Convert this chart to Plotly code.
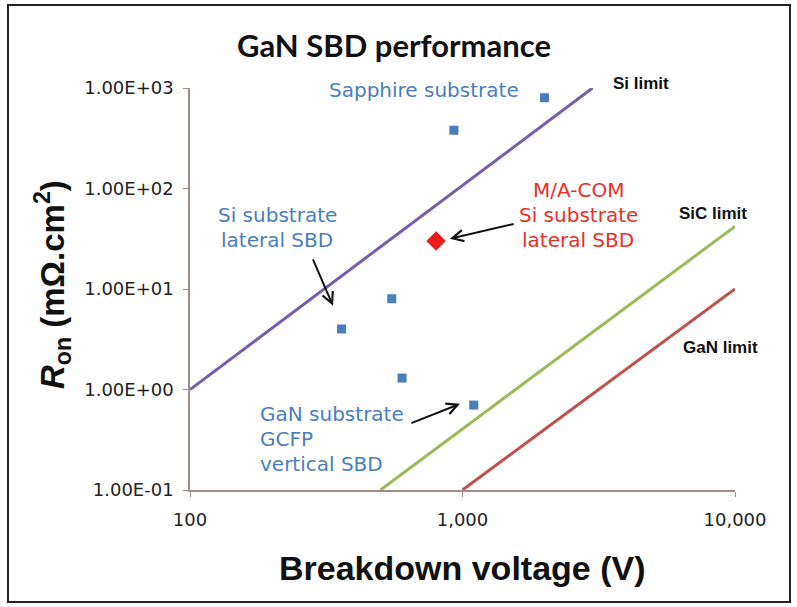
import numpy as np
import plotly.graph_objects as go

# ---- data ----
blue_v = [2000, 930, 550, 360, 600, 1100]
blue_r = [800, 380, 8, 4, 1.3, 0.7]
macom_v = [800]
macom_r = [30]

si_limit_v = [100, 3000]
si_limit_r = [1.0, 1000]
sic_limit_v = [500, 10000]
sic_limit_r = [0.1, 42]
gan_limit_v = [1000, 10000]
gan_limit_r = [0.1, 10]

y_tickvals = [0.1, 1, 10, 100, 1000]
y_ticktext = ["1.00E-01", "1.00E+00", "1.00E+01", "1.00E+02", "1.00E+03"]
x_tickvals = [100, 1000, 10000]
x_ticktext = ["100", "1,000", "10,000"]

# arrows: (tail_v, tail_r, head_v, head_r)
arrow_si = (281, 20.4, 335, 6.8)
arrow_macom = (1560, 44.7, 899, 31.6)
arrow_gan = (641, 0.457, 979, 0.72)

# ---- layout geometry ----
W, H = 797, 607
L, R, T, B = 190, 62, 88, 117
PW, PH = W - L - R, H - T - B


def px(x, y):
    return (x - L) / PW, (H - B - y) / PH


fig = go.Figure()

fig.add_trace(go.Scatter(x=si_limit_v, y=si_limit_r, mode="lines",
                         line=dict(color="#7a5ea8", width=3), showlegend=False))
fig.add_trace(go.Scatter(x=sic_limit_v, y=sic_limit_r, mode="lines",
                         line=dict(color="#9bbb59", width=3), showlegend=False))
fig.add_trace(go.Scatter(x=gan_limit_v, y=gan_limit_r, mode="lines",
                         line=dict(color="#c0504d", width=3), showlegend=False))
fig.add_trace(go.Scatter(x=blue_v, y=blue_r, mode="markers",
                         marker=dict(symbol="square", size=9, color="#4a7ebb"),
                         showlegend=False))
fig.add_trace(go.Scatter(x=macom_v, y=macom_r, mode="markers",
                         marker=dict(symbol="diamond", size=15, color="#ee1c1c"),
                         showlegend=False))

ann = []
LBL = "DejaVu Sans, Verdana"
tick_font = dict(family=LBL, size=18, color="#222222")


def text(x, y, s, size=19, color="#4a7ebb", bold=False, family=LBL,
         xanchor="center", angle=0):
    xp, yp = px(x, y)
    if bold:
        s = "<b>" + s + "</b>"
    ann.append(dict(x=xp, y=yp, xref="paper", yref="paper", text=s, showarrow=False,
                    xanchor=xanchor, yanchor="middle", textangle=angle,
                    font=dict(family=family, size=size, color=color)))


def lines(x, y0, spacing, items, **kw):
    for i, s in enumerate(items):
        text(x, y0 + i * spacing, s, **kw)


text(394, 45, "GaN SBD performance", size=31, color="#111111", bold=True, family="Lato, Open Sans")
text(424, 90, "Sapphire substrate", size=20)
text(641, 83, "Si limit", size=17, color="#111111", bold=True, family="Liberation Sans, Arial")
lines(277, 215, 25, ["Si substrate", "lateral SBD"], size=20)
lines(578, 190, 25, ["M/A-COM", "Si substrate", "lateral SBD"], size=20, color="#e8302a")
text(713, 213, "SiC limit", size=17, color="#111111", bold=True, family="Liberation Sans, Arial")
text(720, 347, "GaN limit", size=17, color="#111111", bold=True, family="Liberation Sans, Arial")
lines(258, 414, 25, ["GaN substrate", "GCFP", "vertical SBD"], size=20, xanchor="left")
text(462, 568, "Breakdown voltage (V)", size=34, color="#111111", bold=True,
     family="Liberation Sans, Arial")
text(52, 285, "<i>R</i><sub>on</sub> (mΩ.cm<sup>2</sup>)", size=33, color="#111111", bold=True,
     family="Liberation Sans, Arial", angle=-90)

for tv, tr, hv, hr in (arrow_si, arrow_macom, arrow_gan):
    ann.append(dict(x=np.log10(hv), y=np.log10(hr), ax=np.log10(tv), ay=np.log10(tr),
                    xref="x", yref="y", axref="x", ayref="y", text="", showarrow=True,
                    arrowhead=5, arrowsize=1.1, arrowwidth=2, arrowcolor="#111111"))

bx0, by0 = px(8, 5)
bx1, by1 = px(790, 602)

fig.update_layout(
    width=W, height=H,
    margin=dict(l=L, r=R, t=T, b=B),
    paper_bgcolor="white", plot_bgcolor="white",
    annotations=ann,
    shapes=[dict(type="rect", xref="paper", yref="paper", x0=bx0, y0=by1, x1=bx1, y1=by0,
                 line=dict(color="#222222", width=2))],
    xaxis=dict(type="log", range=[2, 4], tickvals=x_tickvals, ticktext=x_ticktext,
               showgrid=False, zeroline=False, showline=True, linecolor="#a08e88", linewidth=1.5,
               ticks="outside", ticklen=5, tickcolor="#a08e88", tickfont=tick_font,
               ticklabelstandoff=8),
    yaxis=dict(type="log", range=[-1, 3], tickvals=y_tickvals, ticktext=y_ticktext,
               showgrid=False, zeroline=False, showline=True, linecolor="#a08e88", linewidth=1.5,
               ticks="outside", ticklen=5, tickcolor="#a08e88", tickfont=tick_font,
               ticklabelstandoff=6),
)

fig.write_html("out.html")
